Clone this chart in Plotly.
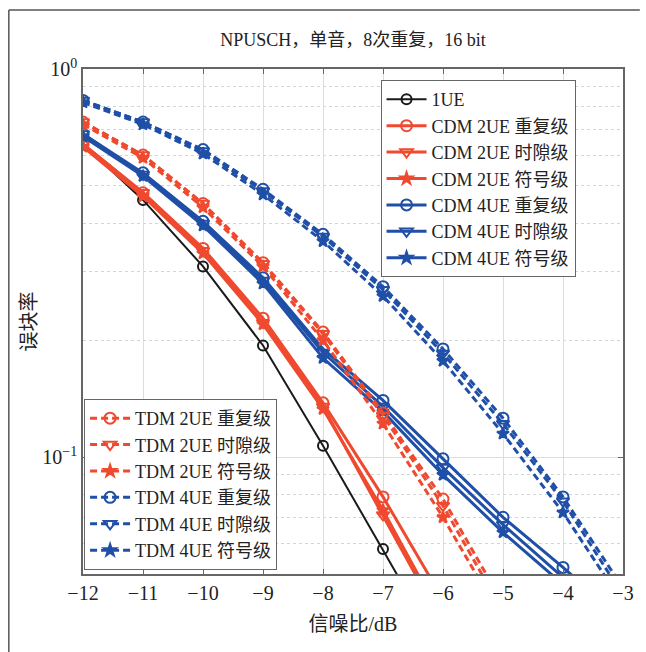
import plotly.graph_objects as go

snr = [-12, -11, -10, -9, -8, -7, -6, -5, -4, -3]
snr_labels = ["−12", "−11", "−10", "−9", "−8", "−7", "−6", "−5", "−4", "−3"]

ue1 = [0.64, 0.46, 0.31, 0.194, 0.107, 0.058, 0.031]

cdm2_rep = [0.64, 0.48, 0.345, 0.228, 0.138, 0.079, 0.043]
cdm2_slot = [0.64, 0.48, 0.34, 0.222, 0.135, 0.071, 0.037]
cdm2_sym = [0.63, 0.47, 0.335, 0.22, 0.133, 0.073, 0.038]

cdm4_rep = [0.68, 0.54, 0.405, 0.29, 0.19, 0.14, 0.099, 0.070, 0.052, 0.038]
cdm4_slot = [0.68, 0.535, 0.40, 0.285, 0.186, 0.135, 0.094, 0.067, 0.049, 0.036]
cdm4_sym = [0.67, 0.53, 0.395, 0.28, 0.18, 0.131, 0.09, 0.064, 0.047, 0.034]

tdm2_rep = [0.73, 0.60, 0.45, 0.317, 0.21, 0.13, 0.078, 0.042]
tdm2_slot = [0.73, 0.60, 0.45, 0.315, 0.208, 0.128, 0.075, 0.040]
tdm2_sym = [0.72, 0.59, 0.44, 0.31, 0.20, 0.122, 0.070, 0.038]

tdm4_rep = [0.83, 0.73, 0.62, 0.49, 0.375, 0.275, 0.19, 0.126, 0.079, 0.046]
tdm4_slot = [0.83, 0.73, 0.615, 0.485, 0.37, 0.27, 0.185, 0.122, 0.077, 0.044]
tdm4_sym = [0.82, 0.72, 0.605, 0.475, 0.36, 0.26, 0.177, 0.115, 0.072, 0.042]

names1 = ["1UE", "CDM 2UE 重复级", "CDM 2UE 时隙级", "CDM 2UE 符号级",
          "CDM 4UE 重复级", "CDM 4UE 时隙级", "CDM 4UE 符号级"]
names2 = ["TDM 2UE 重复级", "TDM 2UE 时隙级", "TDM 2UE 符号级",
          "TDM 4UE 重复级", "TDM 4UE 时隙级", "TDM 4UE 符号级"]

RED = "#ef4a2f"
BLUE = "#1f4fa6"
BLACK = "#1a1a1a"
FONT = "Liberation Serif, Noto Sans CJK SC, serif"
DASH = "7px,4px"

fig = go.Figure()

def add(y, name, color, symbol, dash, legend, width=3, msize=10):
    fig.add_trace(go.Scatter(
        x=snr[:len(y)], y=y, name=name, mode="lines+markers",
        line=dict(color=color, width=width, dash=dash),
        marker=dict(symbol=symbol, size=msize, color=color,
                    line=dict(color=color, width=2)),
        legend=legend,
    ))

add(ue1, names1[0], BLACK, "circle-open", "solid", "legend", width=2, msize=10)
add(cdm2_rep, names1[1], RED, "circle-open", "solid", "legend", msize=11)
add(cdm2_slot, names1[2], RED, "triangle-down-open", "solid", "legend", msize=11)
add(cdm2_sym, names1[3], RED, "star", "solid", "legend", msize=9)
add(cdm4_rep, names1[4], BLUE, "circle-open", "solid", "legend", msize=11)
add(cdm4_slot, names1[5], BLUE, "triangle-down-open", "solid", "legend", msize=11)
add(cdm4_sym, names1[6], BLUE, "star", "solid", "legend", msize=9)

add(tdm2_rep, names2[0], RED, "circle-open", DASH, "legend2", msize=11)
add(tdm2_slot, names2[1], RED, "triangle-down-open", DASH, "legend2", msize=11)
add(tdm2_sym, names2[2], RED, "star", DASH, "legend2", msize=9)
add(tdm4_rep, names2[3], BLUE, "circle-open", DASH, "legend2", msize=11)
add(tdm4_slot, names2[4], BLUE, "triangle-down-open", DASH, "legend2", msize=11)
add(tdm4_sym, names2[5], BLUE, "star", DASH, "legend2", msize=9)

minor_vals = [0.05, 0.06, 0.07, 0.08, 0.09, 0.2, 0.3, 0.4, 0.5, 0.6, 0.7, 0.8, 0.9]

fig.update_layout(
    width=646, height=652,
    margin=dict(l=83, r=17, t=69, b=78),
    paper_bgcolor="white", plot_bgcolor="white",
    font=dict(family=FONT, size=20, color="#222"),
    title=dict(text="NPUSCH，单音，8次重复，16 bit", x=0.5, xref="paper",
               y=1 - 40 / 652, yanchor="middle",
               font=dict(family=FONT, size=18, color="#222")),
    xaxis=dict(range=[-12, -3], tickvals=snr, ticktext=snr_labels,
               tickfont=dict(size=20),
               showgrid=True, gridcolor="#d9dee3", gridwidth=1,
               showline=True, linecolor="#666", linewidth=1.5, mirror="ticks",
               ticks="inside", ticklen=5, tickcolor="#666",
               zeroline=False,
               title=dict(text="信噪比/dB", standoff=14, font=dict(size=20))),
    yaxis=dict(type="log", range=[-1.30103, 0],
               tickvals=[0.1, 1],
               ticktext=["10<sup>−1</sup>", "10<sup>0</sup>"],
               tickfont=dict(size=20),
               showgrid=True, gridcolor="#d9dee3", gridwidth=1,
               showline=True, linecolor="#666", linewidth=1.5, mirror="ticks",
               ticks="inside", ticklen=5, tickcolor="#666",
               minor=dict(tickvals=minor_vals, showgrid=True, gridcolor="#cfd5da",
                          griddash="dot", gridwidth=1, ticks=""),
               title=dict(text="误块率", standoff=0, font=dict(size=20))),
    legend=dict(x=0.551, y=0.978, xanchor="left", yanchor="top",
                bgcolor="white", bordercolor="#666", borderwidth=1,
                font=dict(family=FONT, size=18, color="#222"),
                tracegroupgap=0, itemwidth=40),
    legend2=dict(x=0.002, y=0.008, xanchor="left", yanchor="bottom",
                 bgcolor="white", bordercolor="#666", borderwidth=1,
                 font=dict(family=FONT, size=18, color="#222"),
                 tracegroupgap=0, itemwidth=40),
    showlegend=True,
)

# outer frame of the figure
fig.add_shape(type="line", xref="paper", yref="paper",
              x0=(8 - 83) / 546, x1=(8 - 83) / 546,
              y0=(574 - 652) / 505, y1=1 + (69 - 10) / 505,
              line=dict(color="#555", width=1.5))
fig.add_shape(type="line", xref="paper", yref="paper",
              x0=(8 - 83) / 546, x1=(646 - 83) / 546,
              y0=1 + (69 - 10) / 505, y1=1 + (69 - 10) / 505,
              line=dict(color="#555", width=1.5))

fig.write_html("out.html")
